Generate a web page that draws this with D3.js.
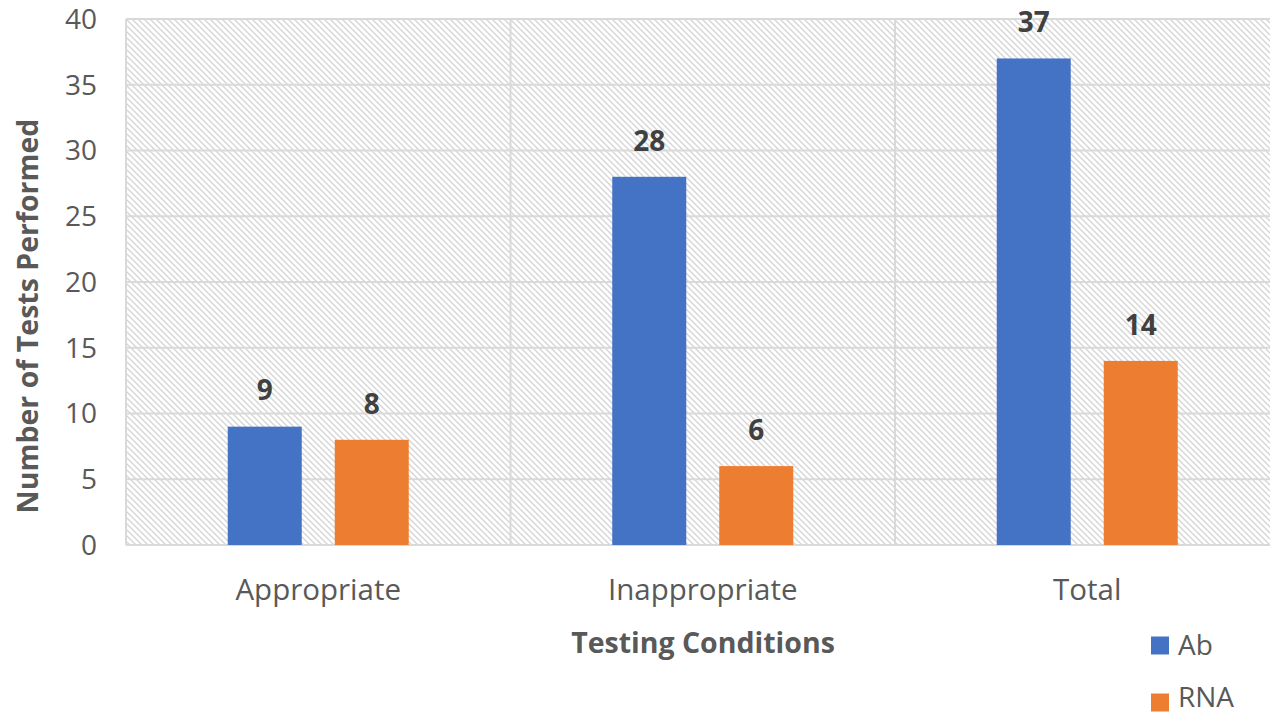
<!DOCTYPE html>
<html>
<head>
<meta charset="utf-8">
<script src="https://cdn.jsdelivr.net/npm/d3@7"></script>
<style>
  html, body { margin: 0; padding: 0; background: #ffffff; }
  svg { display: block; }
</style>
</head>
<body>
<svg id="chart" width="1270" height="715"></svg>
<script>
const categories = ["Appropriate", "Inappropriate", "Total"];
const seriesNames = ["Ab", "RNA"];
const abValues = [9, 28, 37];
const rnaValues = [8, 6, 14];
const yTicks = [0, 5, 10, 15, 20, 25, 30, 35, 40];
const colors = ["#4472C4", "#ED7D31"];

const FONT = "'Open Sans', sans-serif";
const svg = d3.select("#chart");
const margin = { left: 126, top: 19 };
const plotW = 1153.5, plotH = 526;

const defs = svg.append("defs");
const pat = defs.append("pattern")
  .attr("id", "hatch").attr("patternUnits", "userSpaceOnUse")
  .attr("width", 6).attr("height", 6);
pat.append("rect").attr("width", 6).attr("height", 6).attr("fill", "#ffffff");
pat.append("path")
  .attr("d", "M-1,-1 L7,7 M-1,5 L1,7 M5,-1 L7,1")
  .attr("stroke", "#d4d4d4").attr("stroke-width", 1.3);

const g = svg.append("g").attr("transform", `translate(${margin.left},${margin.top})`);

const x0 = d3.scaleBand().domain(categories).range([0, plotW]).padding(0);
const bw = x0.bandwidth();
const groupW = 181;
const x1 = d3.scaleBand().domain(seriesNames)
  .range([(bw - groupW) / 2, (bw + groupW) / 2])
  .paddingInner(33 / 107).paddingOuter(0);
const y = d3.scaleLinear().domain([0, 40]).range([plotH, 0]);

// background hatch
g.append("rect").attr("x", 0).attr("y", 0).attr("width", plotW).attr("height", plotH)
  .attr("fill", "url(#hatch)");

// horizontal gridlines
g.append("g").selectAll("line").data(yTicks).join("line")
  .attr("x1", 0).attr("x2", plotW)
  .attr("y1", d => y(d)).attr("y2", d => y(d))
  .attr("stroke", "#d9d9d9").attr("stroke-width", 2);

// vertical category dividers
const dividers = categories.map(c => x0(c)).concat([plotW]);
g.append("g").selectAll("line").data(dividers).join("line")
  .attr("x1", d => d).attr("x2", d => d)
  .attr("y1", 0).attr("y2", plotH)
  .attr("stroke", "#d9d9d9").attr("stroke-width", 2);

// bars
const data = categories.map((c, i) => ({ cat: c, vals: [abValues[i], rnaValues[i]] }));
const groups = g.append("g").selectAll("g").data(data).join("g")
  .attr("transform", d => `translate(${x0(d.cat)},0)`);
groups.selectAll("rect").data(d => d.vals.map((v, j) => ({ s: seriesNames[j], v, j })))
  .join("rect")
  .attr("x", d => x1(d.s)).attr("width", x1.bandwidth())
  .attr("y", d => y(d.v)).attr("height", d => plotH - y(d.v))
  .attr("fill", d => colors[d.j]);
groups.selectAll("text").data(d => d.vals.map((v, j) => ({ s: seriesNames[j], v, j })))
  .join("text")
  .attr("x", d => x1(d.s) + x1.bandwidth() / 2)
  .attr("y", d => y(d.v) - 36).attr("dy", "0.35em")
  .attr("text-anchor", "middle")
  .attr("font-family", FONT).attr("font-weight", "bold")
  .attr("font-size", 28).attr("fill", "#404040")
  .text(d => d.v);

// y tick labels
g.append("g").selectAll("text").data(yTicks).join("text")
  .attr("x", -29).attr("y", d => y(d)).attr("dy", "0.35em")
  .attr("text-anchor", "end")
  .attr("font-family", FONT).attr("font-size", 28)
  .attr("fill", "#595959").text(d => d);

// x tick labels
g.append("g").selectAll("text").data(categories).join("text")
  .attr("x", d => x0(d) + bw / 2).attr("y", plotH + 45).attr("dy", "0.35em")
  .attr("text-anchor", "middle")
  .attr("font-family", FONT).attr("font-size", 29.5)
  .attr("fill", "#595959").text(d => d);

// axis titles
svg.append("text")
  .attr("transform", "translate(28,316) rotate(-90)")
  .attr("dy", "0.35em").attr("text-anchor", "middle")
  .attr("font-family", FONT).attr("font-weight", "bold")
  .attr("font-size", 28.5).attr("fill", "#595959")
  .text("Number of Tests Performed");
svg.append("text")
  .attr("x", 703).attr("y", 643).attr("dy", "0.35em").attr("text-anchor", "middle")
  .attr("font-family", FONT).attr("font-weight", "bold")
  .attr("font-size", 28.5).attr("fill", "#595959")
  .text("Testing Conditions");

// legend
const legendSq = [645.5, 702.5];
const legendBase = [655, 707];
const lg = svg.append("g").selectAll("g").data(seriesNames).join("g");
lg.append("rect").attr("x", 1151).attr("y", (d, i) => legendSq[i] - 9)
  .attr("width", 18).attr("height", 18)
  .attr("fill", (d, i) => colors[i]);
lg.append("text").attr("x", 1178).attr("y", (d, i) => legendBase[i])
  .attr("font-family", FONT).attr("font-size", 28)
  .attr("fill", "#595959").text(d => d);
</script>
</body>
</html>
